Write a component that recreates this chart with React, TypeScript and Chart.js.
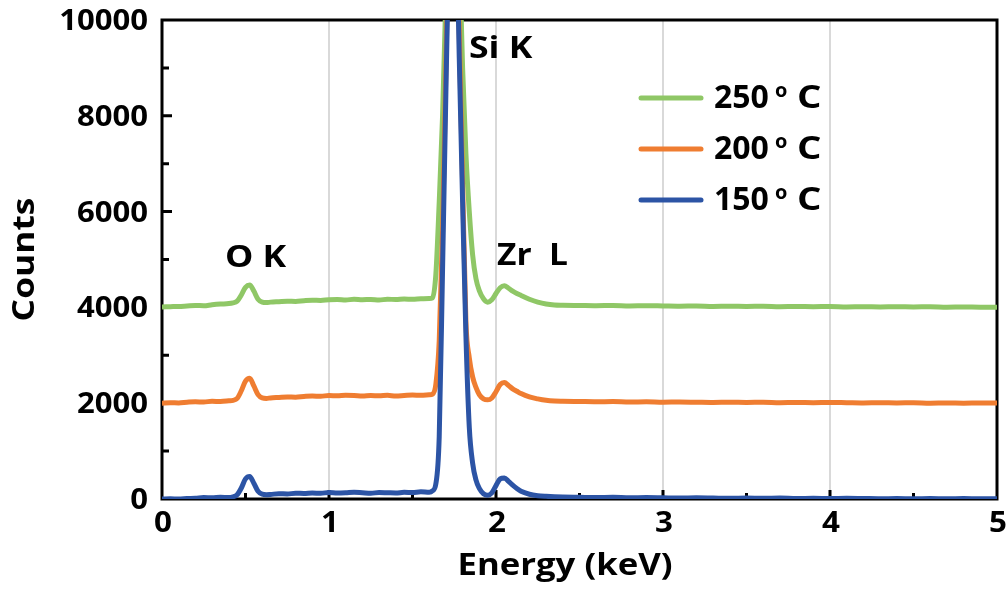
import React, { useEffect, useRef } from "react";
import { Chart, registerables } from "chart.js";

Chart.register(...registerables);

// ---------- data ----------
const energyKeV = [
  0, 0.05, 0.1, 0.15, 0.2, 0.25, 0.3, 0.35, 0.4, 0.425, 0.45, 0.475, 0.5, 0.525, 0.55, 0.575, 0.6, 0.625, 0.65,
  0.7, 0.75, 0.8, 0.85, 0.9, 0.95, 1.0, 1.05, 1.1, 1.15, 1.2, 1.25, 1.3, 1.35, 1.4, 1.45, 1.5, 1.55, 1.6,
  1.62, 1.64, 1.66, 1.68, 1.7, 1.72, 1.74, 1.76, 1.78, 1.8, 1.82, 1.84, 1.86, 1.88, 1.9,
  1.925, 1.95, 1.975, 2.0, 2.025, 2.05, 2.075, 2.1, 2.125, 2.15, 2.2, 2.25, 2.3, 2.35, 2.4,
  2.5, 2.6, 2.7, 2.8, 2.9, 3.0, 3.1, 3.2, 3.3, 3.4, 3.5, 3.6, 3.7, 3.8, 3.9, 4.0, 4.1, 4.2, 4.3, 4.4, 4.5,
  4.6, 4.7, 4.8, 4.9, 5.0,
];

const counts150 = [
  0, 5, 0, 10, 15, 30, 25, 35, 30, 45, 90, 230, 420, 470, 330, 160, 100, 90, 95,
  110, 105, 120, 115, 125, 120, 135, 125, 130, 140, 130, 120, 135, 130, 125, 140, 135, 150, 140,
  170, 320, 1300, 4800, 8500, 12000, 14800, 12500, 9200, 6200, 3400, 1500, 750, 400, 220,
  110, 80, 130, 280, 420, 440, 370, 290, 220, 160, 100, 70, 55, 45, 40,
  35, 30, 35, 25, 30, 25, 20, 25, 20, 15, 20, 15, 20, 10, 15, 10, 15, 10, 5, 10, 5,
  10, 5, 10, 5, 5,
];

const counts200 = [
  2000, 2010, 2005, 2020, 2030, 2025, 2040, 2035, 2050, 2060, 2100, 2260, 2460, 2520, 2360, 2180, 2110, 2100, 2110,
  2120, 2130, 2125, 2140, 2150, 2145, 2160, 2155, 2165, 2160, 2150, 2160, 2155, 2165, 2150, 2160, 2170, 2165, 2175,
  2190, 2400, 3300, 5600, 9000, 12500, 15200, 13000, 9700, 6600, 3700, 2950, 2550, 2330, 2180,
  2090, 2070, 2110, 2240, 2390, 2430, 2370, 2300, 2250, 2200, 2130, 2090, 2060, 2045, 2040,
  2035, 2030, 2035, 2025, 2030, 2020, 2025, 2020, 2015, 2020, 2015, 2020, 2010, 2015, 2010, 2015, 2010, 2005, 2010,
  2005, 2010, 2000, 2005, 2000, 2005, 2005,
];

const counts250 = [
  4010, 4015, 4020, 4030, 4040, 4035, 4055, 4070, 4080, 4095, 4130, 4260, 4420, 4470, 4340, 4170, 4110, 4100, 4110,
  4120, 4130, 4125, 4140, 4150, 4145, 4160, 4165, 4155, 4170, 4160, 4165, 4155, 4170, 4165, 4175, 4170, 4180, 4185,
  4200, 4700, 6200, 8000, 10500, 14000, 16500, 14500, 11500, 9000, 7200, 6000, 5100, 4600, 4350,
  4180, 4110, 4160, 4290, 4410, 4450, 4400, 4340, 4290, 4250, 4170, 4110, 4070, 4050, 4045,
  4040, 4035, 4040, 4030, 4035, 4030, 4025, 4030, 4020, 4025, 4020, 4025, 4015, 4020, 4015, 4020, 4010, 4015, 4010,
  4015, 4010, 4015, 4005, 4010, 4005, 4005,
];

const seriesTemps = ["150", "200", "250"];
const seriesColors = ["#2c54a5", "#ef7d31", "#8fc766"];
const xTickLabels = ["0", "1", "2", "3", "4", "5"];
const yTickLabels = ["0", "2000", "4000", "6000", "8000", "10000"];
const peakNames = ["O K", "Si K", "Zr  L"];
const xTitle = "Energy (keV)";
const yTitle = "Counts";

const FONT = "'Open Sans', 'DejaVu Sans', sans-serif";

function drawStretched(ctx: any, text: string, x: number, y: number, font: string, align: string, sx: number, rot = 0) {
  ctx.save();
  ctx.font = font;
  ctx.textAlign = align;
  ctx.textBaseline = "alphabetic";
  ctx.translate(x, y);
  if (rot) ctx.rotate(rot);
  ctx.scale(sx, 1);
  ctx.fillText(text, 0, 0);
  ctx.restore();
}

const decorPlugin = {
  id: "decor",
  beforeDatasetsDraw(chart: any) {
    const { ctx, chartArea: a, scales } = chart;
    const xs = scales.x;
    const ys = scales.y;
    ctx.save();
    ctx.strokeStyle = "#000";
    ctx.lineWidth = 3;
    ctx.beginPath();
    ys.ticks.forEach((t: any) => {
      if (t.value <= 0 || t.value >= 10000) return;
      const py = ys.getPixelForValue(t.value);
      const len = t.value % 2000 === 0 ? 10 : 7;
      ctx.moveTo(a.left, py);
      ctx.lineTo(a.left + len, py);
    });
    xs.ticks.forEach((t: any) => {
      if (t.value <= 0 || t.value >= 5) return;
      const px = xs.getPixelForValue(t.value);
      const len = Number.isInteger(t.value) ? 9 : 6;
      ctx.moveTo(px, a.bottom);
      ctx.lineTo(px, a.bottom - len);
    });
    ctx.stroke();
    ctx.strokeRect(a.left, a.top, a.right - a.left, a.bottom - a.top);
    ctx.restore();

    // tick labels
    ctx.save();
    ctx.fillStyle = "#000";
    const tickFont = `bold 28px ${FONT}`;
    ys.ticks.forEach((t: any) => {
      if (t.value % 2000 !== 0) return;
      const py = ys.getPixelForValue(t.value);
      drawStretched(ctx, yTickLabels[t.value / 2000], a.left - 14, py + 10, tickFont, "right", 1.11);
    });
    xs.ticks.forEach((t: any) => {
      if (!Number.isInteger(t.value)) return;
      const px = xs.getPixelForValue(t.value);
      drawStretched(ctx, xTickLabels[t.value], px + 1, a.bottom + 33, tickFont, "center", 1.12);
    });
    ctx.restore();
  },
  afterDatasetsDraw(chart: any) {
    const { ctx, chartArea: a, scales } = chart;
    const xs = scales.x;
    const ys = scales.y;
    ctx.save();
    ctx.fillStyle = "#000";
    // peak annotations
    const anchors = [
      [0.377, 4840],
      [1.838, 9200],
      [2.006, 4880],
    ];
    const stretch = [1.15, 1.15, 1.08];
    peakNames.forEach((name, i) => {
      drawStretched(
        ctx,
        name,
        xs.getPixelForValue(anchors[i][0]),
        ys.getPixelForValue(anchors[i][1]),
        `bold 31px ${FONT}`,
        "left",
        stretch[i]
      );
    });
    // legend (top to bottom: 250, 200, 150)
    const order = [2, 1, 0];
    order.forEach((di, row) => {
      const lineY = 98 + row * 51;
      ctx.strokeStyle = seriesColors[di];
      ctx.lineWidth = 5;
      ctx.lineCap = "round";
      ctx.beginPath();
      ctx.moveTo(641, lineY);
      ctx.lineTo(701, lineY);
      ctx.stroke();
      const base = lineY + 10;
      drawStretched(ctx, seriesTemps[di], 714, base, `bold 32px ${FONT}`, "left", 1.0);
      drawStretched(ctx, "o", 775, base - 11, `bold 19px ${FONT}`, "left", 1.05);
      drawStretched(ctx, "C", 797, base, `bold 32px ${FONT}`, "left", 1.2);
    });
    // axis titles
    drawStretched(ctx, xTitle, 565, 575, `bold 31px ${FONT}`, "center", 1.12);
    drawStretched(ctx, yTitle, 34, (a.top + a.bottom) / 2, `bold 31px ${FONT}`, "center", 1.14, -Math.PI / 2);
    ctx.restore();
  },
};

export default function App() {
  const ref = useRef<HTMLCanvasElement | null>(null);
  useEffect(() => {
    document.body.style.margin = "0";
    document.body.style.overflow = "hidden";
    const canvas = ref.current;
    if (!canvas) return;
    const all = [counts150, counts200, counts250];
    const mk = (i: number, order: number) => ({
      label: seriesTemps[i] + " °C",
      data: energyKeV.map((e, k) => ({ x: e, y: all[i][k] })),
      borderColor: seriesColors[i],
      backgroundColor: seriesColors[i],
      borderWidth: 5,
      pointRadius: 0,
      cubicInterpolationMode: "monotone" as const,
      fill: false,
      order,
    });
    const chart = new Chart(canvas, {
      type: "line",
      data: { datasets: [mk(0, 0), mk(1, 1), mk(2, 2)] },
      options: {
        animation: false,
        responsive: false,
        layout: { padding: { top: 20, right: 11, left: 0, bottom: 0 } },
        plugins: { legend: { display: false }, tooltip: { enabled: false } },
        scales: {
          x: {
            type: "linear",
            min: 0,
            max: 5,
            ticks: { stepSize: 0.5, autoSkip: false, display: false },
            grid: {
              drawTicks: false,
              lineWidth: 2,
              color: (c: any) => {
                const v = c.tick && c.tick.value;
                return Number.isInteger(v) && v > 0 && v < 5 ? "#d9d9d9" : "rgba(0,0,0,0)";
              },
            },
            border: { display: false },
            afterFit: (s: any) => {
              s.height = 101;
            },
          },
          y: {
            type: "linear",
            min: 0,
            max: 10000,
            ticks: { stepSize: 1000, autoSkip: false, display: false },
            grid: { display: false, drawTicks: false },
            border: { display: false },
            afterFit: (s: any) => {
              s.width = 162;
            },
          },
        },
      },
      plugins: [decorPlugin],
    });
    return () => chart.destroy();
  }, []);
  return <canvas ref={ref} width={1008} height={600} style={{ display: "block" }} />;
}
